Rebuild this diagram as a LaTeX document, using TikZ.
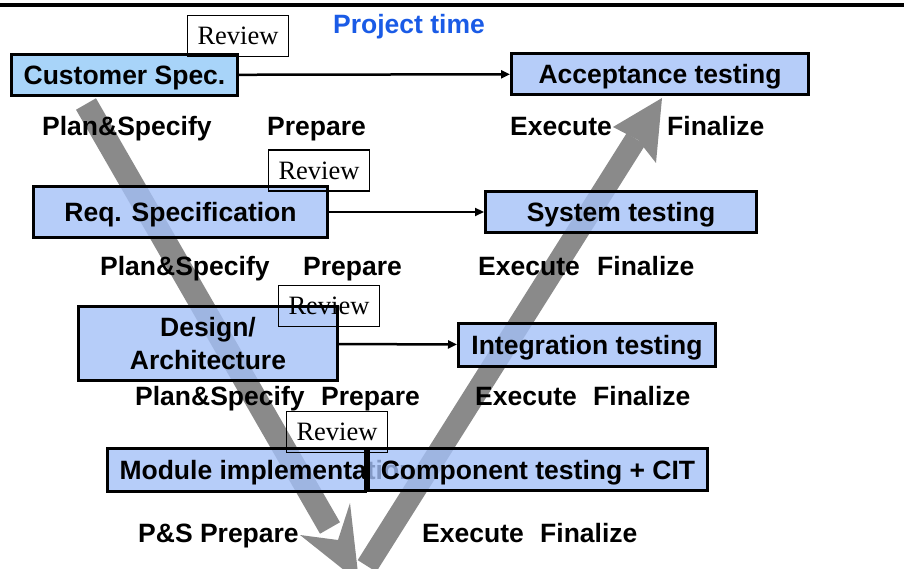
\documentclass[tikz,border=0pt]{standalone}
\usepackage{fontspec}
\setmainfont{Liberation Sans}
\newfontfamily\reviewfont{Liberation Serif}
\usetikzlibrary{arrows.meta,positioning}
\definecolor{vmSky}{HTML}{A8D4F9}
\definecolor{vmLilac}{HTML}{A4C0F7}
\definecolor{vmGray}{HTML}{8A8A8A}
\definecolor{vmBlue}{HTML}{1A5BE6}
\tikzset{
  every picture/.style={font=\bfseries\fontsize{26.5}{30}\selectfont},
  vm box/.style={draw=black, line width=3pt, fill=vmLilac, fill opacity=0.8,
    text opacity=1, align=center, inner sep=0pt, text height=19.5pt, text depth=0pt},
  vm review/.style={draw=black, line width=1.2pt, inner sep=0pt,
    font=\reviewfont\mdseries\fontsize{26.5}{30}\selectfont,
    minimum width=101pt, minimum height=41pt},
  vm arrow/.style={-{Triangle[length=9pt,width=8pt]}, line width=2.5pt},
  vm band/.style={draw=vmGray, line width=23pt, line cap=butt},
  vm phase/.style={anchor=base west, inner sep=0pt}
}

\begin{document}
\begin{tikzpicture}[x=1pt,y=-1pt]
  \useasboundingbox (0,0) rectangle (904,569);
  \draw[line width=4pt] (0,5.3) -- (904,5.3);
  \node[text=vmBlue, anchor=base] (title) at (409,34) {Project time};

  % the V: down the left arm, back up the right one
  \coordinate (downTop) at (86,104);
  \coordinate (downEnd) at (330,528);
  \coordinate (upStart) at (367,566);
  \coordinate (upEnd) at (636,139);
  \draw[vm band] (downTop) -- (downEnd);
  \fill[vmGray] (300,535) -- (359,582) -- (350,503) -- (338,540) -- cycle;
  \draw[vm band, line width=22pt] (upStart) -- (upEnd);
  \fill[vmGray] (662,98) -- (613,127) -- (638,140) -- (656,163) -- cycle;

  % levels
  \node[vm box, fill=vmSky, fill opacity=1, minimum width=226pt, minimum height=41pt]
    (cust) at (124.5,75) {Customer Spec.};
  \node[vm box, minimum width=297pt, minimum height=41pt] (accept) at (660,74) {Acceptance testing};
  \node[vm box, minimum width=294pt, minimum height=51pt] (req) at (180.5,212) {Req. Specification};
  \node[vm box, minimum width=271pt, minimum height=41pt] (system) at (621,212) {System testing};
  \node[vm box, minimum width=259pt, minimum height=74pt, text height=52.5pt,
    font=\bfseries\fontsize{26.5}{33}\selectfont]
    (design) at (208,343.5) {Design/\\Architecture};
  \node[vm box, minimum width=257pt, minimum height=43pt] (integ) at (587,345) {Integration testing};
  \node[vm box, minimum width=258pt, minimum height=43pt, inner xsep=12pt]
    (module) at (236.5,470) {\makebox[234pt][l]{Module implementation}};
  \node[vm box, minimum width=339pt, minimum height=42pt] (comp) at (538,469.5) {Component testing + CIT};

  \draw[vm arrow] (cust) -- (accept);
  \draw[vm arrow] (req) -- (system);
  \draw[vm arrow] (design) -- (integ);

  \foreach \x/\y/\lab [count=\i] in {42/136/Plan\&Specify, 267/136/Prepare, 510/136/Execute, 667/136/Finalize,
      100/276/Plan\&Specify, 303/276/Prepare, 478/276/Execute, 597/276/Finalize,
      135/405/Plan\&Specify, 321/405/Prepare, 475/405/Execute, 593/405/Finalize,
      138/542/P\&S Prepare, 422/542/Execute, 540/542/Finalize}
    \node[vm phase] (phase\i) at (\x,\y) {\lab};

  \node[vm review] (rev1) at (238,36) {Review};
  \node[vm review] (rev2) at (319,170.5) {Review};
  \node[vm review] (rev3) at (329,306) {Review};
  \node[vm review] (rev4) at (337,432) {Review};
\end{tikzpicture}
\end{document}
